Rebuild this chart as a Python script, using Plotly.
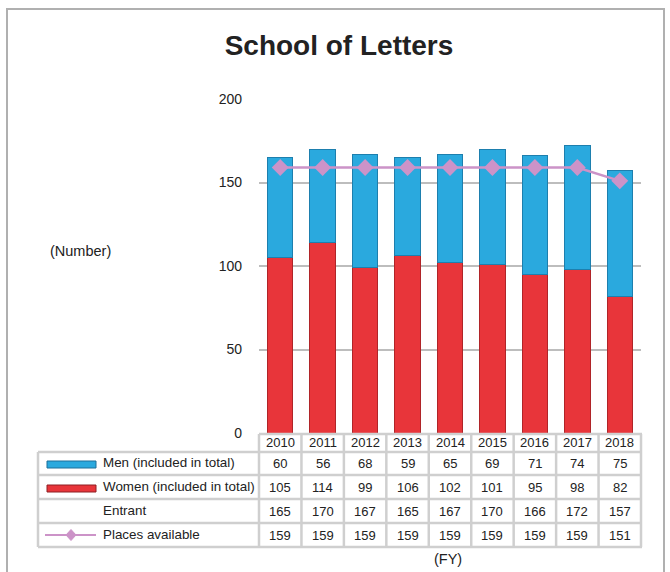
import plotly.graph_objects as go

years = ["2010", "2011", "2012", "2013", "2014", "2015", "2016", "2017", "2018"]
men = [60, 56, 68, 59, 65, 69, 71, 74, 75]
women = [105, 114, 99, 106, 102, 101, 95, 98, 82]
entrant = [165, 170, 167, 165, 167, 170, 166, 172, 157]
places = [159, 159, 159, 159, 159, 159, 159, 159, 151]
row_labels = ["Men (included in total)", "Women (included in total)", "Entrant", "Places available"]
y_ticks = [0, 50, 100, 150, 200]

W, H = 670, 572
L, R, T, B = 259, 641, 99, 433

def px(x):
    return (x - L) / (R - L)

def py(y):
    return (B - y) / (B - T)

BLUE = "#2AA9DE"
RED = "#E8353A"
PINK = "#CC93C8"
GRID = "#BDBDBD"
TBL = "#CFCFCF"
FONT = "Liberation Sans, Arial, sans-serif"

fig = go.Figure()
fig.add_trace(go.Bar(x=years, y=women, name=row_labels[1], marker=dict(color=RED, line=dict(color="#B02428", width=1)), width=0.6))
fig.add_trace(go.Bar(x=years, y=men, name=row_labels[0], marker=dict(color=BLUE, line=dict(color="#1D7FAE", width=1)), width=0.6))
fig.add_trace(go.Scatter(x=years, y=places, name=row_labels[3], mode="lines+markers",
                         line=dict(color=PINK, width=2.5),
                         marker=dict(symbol="diamond", size=13, color=PINK)))

shapes = []
annotations = []

# outer frame
shapes.append(dict(type="rect", xref="paper", yref="paper", x0=px(7), x1=px(664), y0=py(580), y1=py(9),
                   line=dict(color="#B0B0B0", width=2), layer="below"))

# table grid
row_edges = [434, 452, 475, 499, 523, 547]
ncol = len(years)
colw = (R - L) / ncol
for yy in row_edges:
    x0 = L if yy == 434 else 38
    shapes.append(dict(type="line", xref="paper", yref="paper", x0=px(x0), x1=px(R + 1), y0=py(yy), y1=py(yy),
                       line=dict(color=TBL, width=2.5)))
for i in range(ncol + 1):
    xx = L + i * colw
    shapes.append(dict(type="line", xref="paper", yref="paper", x0=px(xx), x1=px(xx), y0=py(434), y1=py(547),
                       line=dict(color=TBL, width=2.5)))
shapes.append(dict(type="line", xref="paper", yref="paper", x0=px(38), x1=px(38), y0=py(452), y1=py(547),
                   line=dict(color=TBL, width=2.5)))

# legend swatches
shapes.append(dict(type="rect", xref="paper", yref="paper", x0=px(47), x1=px(96), y0=py(468), y1=py(461),
                   fillcolor=BLUE, line=dict(color="#1D6F99", width=1)))
shapes.append(dict(type="rect", xref="paper", yref="paper", x0=px(47), x1=px(96), y0=py(492), y1=py(485),
                   fillcolor=RED, line=dict(color="#8E1E22", width=1)))
shapes.append(dict(type="line", xref="paper", yref="paper", x0=px(45), x1=px(96), y0=py(535), y1=py(535),
                   line=dict(color=PINK, width=2)))
shapes.append(dict(type="path", xref="paper", yref="paper",
                   path=f"M {px(71)} {py(529.5)} L {px(76)} {py(535)} L {px(71)} {py(540.5)} L {px(66)} {py(535)} Z",
                   fillcolor=PINK, line=dict(color=PINK, width=1)))

row_centers = [463.5, 487, 511, 535]
for lab, yc in zip(row_labels, row_centers):
    annotations.append(dict(text=lab, xref="paper", yref="paper", x=px(101), y=py(yc - 1), xanchor="left",
                            yanchor="middle", showarrow=False, font=dict(size=13.4, color="#222", family=FONT)))

for i, yr in enumerate(years):
    annotations.append(dict(text=yr, xref="x", yref="paper", x=i, y=py(443), xanchor="center", yanchor="middle",
                            showarrow=False, font=dict(size=13, color="#222", family=FONT)))
for series, yc in zip([men, women, entrant, places], row_centers):
    for i, v in enumerate(series):
        annotations.append(dict(text=str(v), xref="x", yref="paper", x=i, y=py(yc), xanchor="center",
                                yanchor="middle", showarrow=False, font=dict(size=13, color="#222", family=FONT)))

annotations.append(dict(text="(Number)", xref="paper", yref="paper", x=px(80.5), y=py(251), xanchor="center",
                        yanchor="middle", showarrow=False, font=dict(size=14.5, color="#222", family=FONT)))
annotations.append(dict(text="(FY)", xref="paper", yref="paper", x=px(447.5), y=py(559), xanchor="center",
                        yanchor="middle", showarrow=False, font=dict(size=14.5, color="#222", family=FONT)))

fig.update_layout(
    width=W, height=H,
    margin=dict(l=L, r=W - R, t=T, b=H - B, pad=0),
    paper_bgcolor="white", plot_bgcolor="white",
    barmode="stack", showlegend=False,
    title=dict(text="<b>School of Letters</b>", x=339 / W, xanchor="center", y=1 - 45 / H, yanchor="middle",
               font=dict(size=28, color="#222", family=FONT)),
    font=dict(family=FONT, size=13, color="#222"),
    xaxis=dict(type="category", showticklabels=False, showgrid=False, zeroline=False, showline=False,
               range=[-0.5, 8.5]),
    yaxis=dict(range=[0, 200], tickvals=y_ticks, showgrid=True, gridcolor=GRID, gridwidth=2,
               zeroline=False, showline=False, ticklabelstandoff=16, tickfont=dict(size=14, color="#222")),
    shapes=shapes, annotations=annotations,
)
fig.write_html("out.html", config={"displayModeBar": False},
               post_script="document.body.style.margin='0';document.body.style.padding='0';")
